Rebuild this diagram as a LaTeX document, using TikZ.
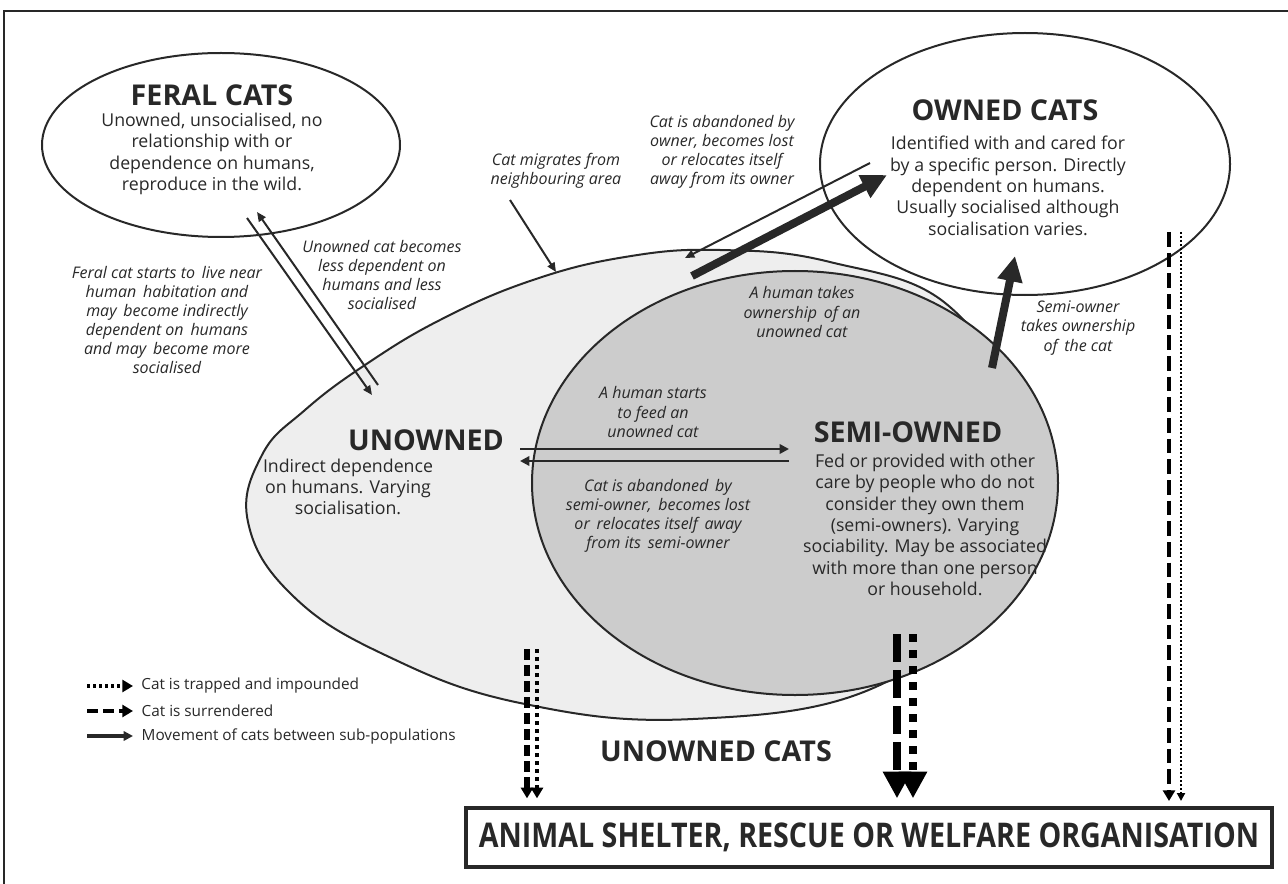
\documentclass[tikz,border=0pt]{standalone}
\usepackage{fontspec}
\setmainfont{Open Sans}
\usetikzlibrary{positioning, arrows.meta, shapes.geometric}

\definecolor{ink}{RGB}{40,40,40}
\definecolor{lightfill}{RGB}{238,238,238}
\definecolor{darkfill}{RGB}{204,204,204}

\begin{document}
\begin{tikzpicture}[
    x=0.75pt, y=-0.75pt,
    ring/.style={draw=ink, line width=1.5pt, ellipse, inner sep=0pt},
    heading/.style={font=\fontsize{21.5}{24}\selectfont\bfseries, text=ink, inner sep=0pt},
    body/.style={font=\fontsize{13.3}{16}\selectfont, text=ink, align=center, inner sep=0pt},
    note/.style={font=\fontsize{12}{14.3}\selectfont\itshape, text=ink, align=center, inner sep=0pt},
    legendtext/.style={font=\fontsize{11.5}{13}\selectfont, text=ink, anchor=west, inner sep=0pt},
    move/.style={draw=ink, line width=2pt, -{Triangle[length=7pt, width=7pt]}},
    thinmove/.style={draw=ink, line width=1.5pt, -{Triangle[length=7pt, width=6pt]}},
    bigmove/.style={draw=ink, line width=6pt, -{Triangle[length=19pt, width=18pt]}},
    trapped/.style={draw=black, line width=2.2pt, dash pattern=on 2.2pt off 2.2pt, -{Triangle[length=8pt, width=9pt]}},
    surrendered/.style={draw=black, line width=3pt, dash pattern=on 8pt off 4pt, -{Triangle[length=8pt, width=9pt]}},
]
\useasboundingbox (0,0) rectangle (1288,884);
\draw[ink, line width=0.8pt] (4,900) -- (4,11) -- (1300,11);

% unowned population (light) and semi-owned (dark)
\draw[ink, line width=1.5pt, fill=lightfill] plot[smooth cycle, tension=0.7] coordinates {
    (720,250) (830,262) (950,307) (1010,420) (990,580) (880,685) (693,719)
    (520,703) (385,655) (292,595) (248,522) (262,455) (305,410) (365,365) (440,320) (530,281) (625,257)};
\node[ring, fill=darkfill, minimum width=394.5pt, minimum height=318pt] (semi) at (795,483) {};
\node[ring, minimum width=268.5pt, minimum height=138pt] (feral) at (221,145) {};
\node[ring, minimum width=307.5pt, minimum height=196.5pt] (owned) at (1025,164) {};

% texts of the sub-populations
\node[heading] (feraltitle) at (212,95) {FERAL CATS};
\node[body] (feraltext) at (212,154) {Unowned, unsocialised, no\\relationship with or\\dependence on humans,\\reproduce in the wild.};
\node[heading] (ownedtitle) at (1005,110) {OWNED CATS};
\node[body] (ownedtext) at (1008,186) {Identified with and cared for\\by a specific person. Directly\\dependent on humans.\\Usually socialised although\\socialisation varies.};
\node[heading] (semititle) at (908,432) {SEMI-OWNED};
\node[body] (semitext) at (925,525) {Fed or provided with other\\care by people who do not\\consider they own them\\(semi-owners). Varying\\sociability. May be associated\\with more than one person\\or household.};
\node[heading] (unownedtitle) at (426,440) {UNOWNED};
\node[body] (unownedtext) at (348,487) {Indirect dependence\\on humans. Varying\\socialisation.};
\node[heading] (unownedcats) at (716,751) {UNOWNED CATS};
\node[draw=ink, line width=2.5pt, fill=white, minimum width=604.5pt, minimum height=44.25pt] (shelter) at (869,837.5)
    {\resizebox{585pt}{18.5pt}{\bfseries\color{ink}ANIMAL SHELTER, RESCUE OR WELFARE ORGANISATION}};

% labels of the movements
\node[note] (lferal) at (167,320) {Feral cat starts to\, live near\\human\, habitation and\\may\, become indirectly\\dependent on\, humans\\and may\, become more\\socialised};
\node[note] (lwild) at (382,275) {Unowned cat becomes\\less dependent on\\humans and less\\socialised};
\node[note] (lmig) at (556,171) {Cat migrates from\\neighbouring area};
\node[note] (lloss) at (722,152) {Cat is abandoned by\\owner, becomes lost\\or relocates itself\\away from its owner};
\node[note] (ltake) at (802,312) {A human takes\\ownership\, of an\\unowned cat};
\node[note] (lsemi) at (1078,328) {Semi-owner\\takes ownership\\of\, the cat};
\node[note] (lfeed) at (653,412) {A human starts\\to feed an\\unowned cat};
\node[note] (lleave) at (658,516) {Cat is abandoned\, by\\semi-owner,\, becomes lost\\or\, relocates itself\, away\\from its\, semi-owner};

% arrow ends
\coordinate (fa) at (378,385);  \coordinate (fb) at (257,212);
\coordinate (fc) at (247,218);  \coordinate (fd) at (372,395);
\coordinate (ma) at (510,200);  \coordinate (mb) at (556,272);
\coordinate (oa) at (870,163);  \coordinate (ob) at (685,258);
\coordinate (oc) at (692,276);  \coordinate (od) at (887,175);
\coordinate (sa) at (992,368);  \coordinate (sb) at (1015,256);
\coordinate (ha) at (520,449);  \coordinate (hb) at (789,449);
\coordinate (hc) at (789,461);  \coordinate (hd) at (520,461);
\coordinate (ua) at (527,649);  \coordinate (ub) at (537,649);
\coordinate (va) at (897,634);  \coordinate (vb) at (913,634);
\coordinate (wa) at (1169,232); \coordinate (wb) at (1181,232);

\draw[thinmove] (fa) -- (fb);
\draw[thinmove] (fc) -- (fd);
\draw[thinmove] (ma) -- (mb);
\draw[thinmove] (oa) -- (ob);
\draw[bigmove] (oc) -- (od);
\draw[bigmove] (sa) -- (sb);
\draw[move] (ha) -- (hb);
\draw[move] (hc) -- (hd);

% to the shelter
\draw[surrendered, line width=4pt] (ua) -- ([yshift=6pt]ua |- shelter.north);
\draw[trapped, line width=3pt, dash pattern=on 3pt off 3pt] (ub) -- ([yshift=6pt]ub |- shelter.north);
\draw[surrendered, line width=6pt, dash pattern=on 21pt off 6pt, -{Triangle[length=20pt, width=20pt]}] (va) -- ([yshift=6pt]va |- shelter.north);
\draw[trapped, line width=6pt, dash pattern=on 6pt off 6pt, -{Triangle[length=20pt, width=20pt]}] (vb) -- ([yshift=6pt]vb |- shelter.north);
\draw[surrendered, line width=3.7pt, dash pattern=on 11pt off 4.5pt] (wa) -- ([yshift=4pt]wa |- shelter.north);
\draw[trapped, line width=1.5pt, dash pattern=on 1.5pt off 1.5pt, -{Triangle[length=6pt, width=6pt]}] (wb) -- ([yshift=4pt]wb |- shelter.north);

% legend
\coordinate (k1) at (87,686); \coordinate (k2) at (87,711); \coordinate (k3) at (87,736);
\draw[trapped, line width=2.5pt, dash pattern=on 2.5pt off 2pt] (k1) -- ++(46,0) node[legendtext, right=5pt] {Cat is trapped and impounded};
\draw[surrendered] (k2) -- ++(46,0) node[legendtext, right=5pt] {Cat is surrendered};
\draw[move, line width=3pt] (k3) -- ++(46,0) node[legendtext, right=5pt] {Movement of cats between sub-populations};
\end{tikzpicture}
\end{document}
